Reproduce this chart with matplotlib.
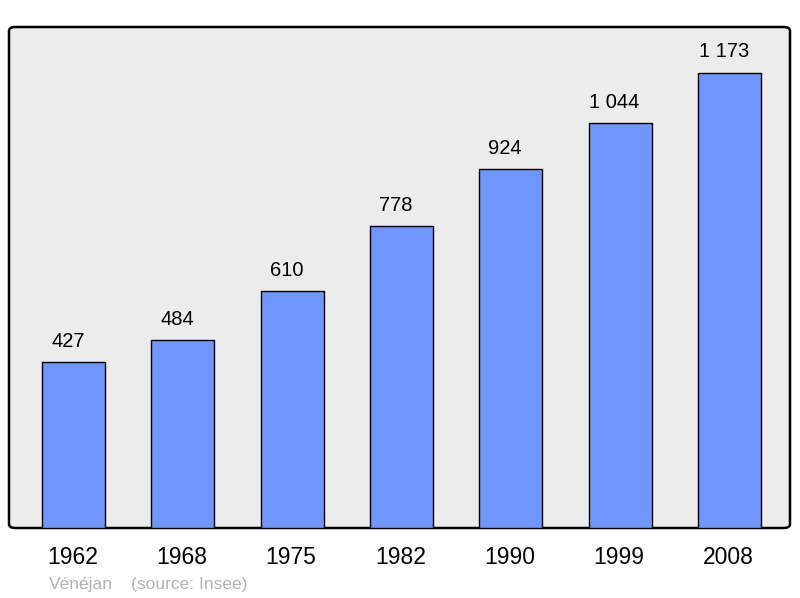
import numpy as np
import matplotlib
matplotlib.use("Agg")
import matplotlib.pyplot as plt
from matplotlib.patches import FancyBboxPatch
from matplotlib.transforms import blended_transform_factory

plt.rcParams["font.family"] = ["Liberation Sans", "DejaVu Sans"]

# -------------------------
# Data
# -------------------------
years = ["1962", "1968", "1975", "1982", "1990", "1999", "2008"]
population = [427, 484, 610, 778, 924, 1044, 1173]
commune = "Vénéjan"
source = "(source: Insee)"

BAR_COLOR = "#7097ff"
BG_COLOR = "#ececec"


def fmt(v):
    return f"{v:,}".replace(",", " ")


fig = plt.figure(figsize=(8, 5.98), dpi=100)
ax = fig.add_axes([9 / 800, 1 - 528 / 598, 781 / 800, 501 / 598])
ax.set_facecolor("none")
for s in ax.spines.values():
    s.set_visible(False)

# rounded frame
frame = FancyBboxPatch((0, 0), 1, 1, boxstyle="round,pad=0,rounding_size=0.008",
                       transform=ax.transAxes, facecolor=BG_COLOR,
                       edgecolor="black", linewidth=1.8, zorder=0, clip_on=False)
ax.add_patch(frame)

x = np.arange(len(years))
bars = ax.bar(x, population, width=0.576, color=BAR_COLOR, edgecolor="black",
              linewidth=1.0, zorder=2)
for b in bars:
    b.set_joinstyle("round")

# value labels sit a little left of the bar centre in the original
for xi, v in zip(x, population):
    ax.annotate(fmt(v), (xi, v), xytext=(-4, 15), textcoords="offset points",
                ha="center", va="center", fontsize=14.5, color="black")

ax.set_xlim(-0.59, 6.555)
ax.set_ylim(0, 1291)
ax.set_xticks([])
ax.set_yticks([])

trans = blended_transform_factory(ax.transData, fig.transFigure)
for xi, lab in zip(x, years):
    ax.text(xi - 0.01, 1 - 558 / 598, lab, transform=trans, ha="center", va="center",
            fontsize=16.5, color="black")

fig.text(49 / 800, 1 - 585 / 598, commune, ha="left", va="center",
         fontsize=12.5, color="#b3b3b3")
fig.text(131 / 800, 1 - 585 / 598, source, ha="left", va="center",
         fontsize=12.5, color="#b3b3b3")

fig.savefig("out.png", dpi=100, facecolor="white")
